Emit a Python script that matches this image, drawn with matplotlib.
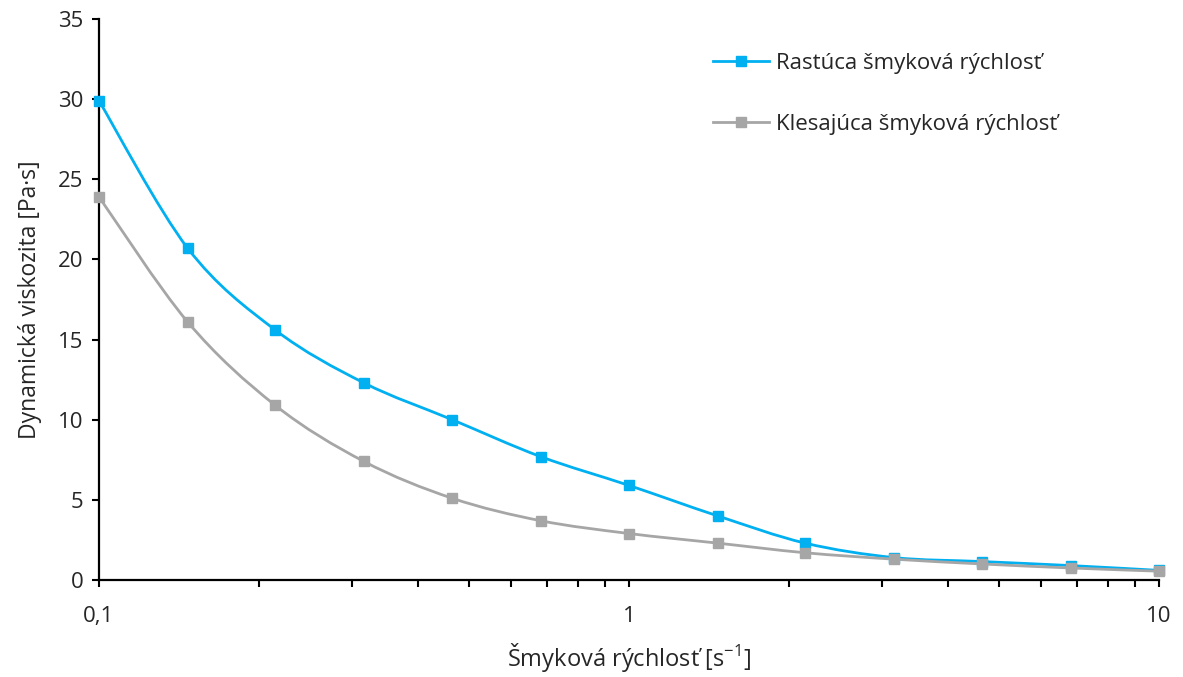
import numpy as np
import matplotlib.pyplot as plt
from matplotlib.path import Path
from matplotlib.patches import PathPatch
from matplotlib.lines import Line2D
from matplotlib.ticker import FixedLocator, LogLocator, NullFormatter

# ─────────────────────────────────────────────
# DATA
# ─────────────────────────────────────────────
shear_rate = [0.1, 0.147, 0.215, 0.316, 0.464, 0.681, 1.0, 1.47, 2.15, 3.16, 4.64, 6.81, 10.0]
visc_up    = [29.9, 20.7, 15.6, 12.3, 10.0, 7.7, 5.9, 4.0, 2.3, 1.4, 1.15, 0.9, 0.6]
visc_down  = [23.9, 16.1, 10.9, 7.4, 5.1, 3.7, 2.9, 2.3, 1.7, 1.3, 1.0, 0.75, 0.55]

label_up   = 'Rastúca šmyková rýchlosť'
label_down = 'Klesajúca šmyková rýchlosť'
xticks      = [0.1, 1, 10]
xticklabels = ['0,1', '1', '10']
yticks      = [0, 5, 10, 15, 20, 25, 30, 35]

BLUE = '#00B0F0'
GRAY = '#A6A6A6'
TEXT = '#262626'
FS = 16

plt.rcParams['font.family'] = ['Open Sans', 'DejaVu Sans']
plt.rcParams['mathtext.fontset'] = 'custom'
plt.rcParams['mathtext.rm'] = 'Open Sans'
plt.rcParams['mathtext.it'] = 'Open Sans'


def smooth_path(xs, ys):
    # Excel-like smoothing: Catmull-Rom in (log x, y), drawn as cubic Bezier
    u = np.log10(xs)
    v = np.asarray(ys, dtype=float)
    n = len(u)
    verts = [(xs[0], v[0])]
    codes = [Path.MOVETO]
    for i in range(n - 1):
        i0, i2 = max(i - 1, 0), min(i + 2, n - 1)
        c1u = u[i] + (u[i + 1] - u[i0]) / 6
        c1v = v[i] + (v[i + 1] - v[i0]) / 6
        c2u = u[i + 1] - (u[i2] - u[i]) / 6
        c2v = v[i + 1] - (v[i2] - v[i]) / 6
        verts += [(10 ** c1u, c1v), (10 ** c2u, c2v), (xs[i + 1], v[i + 1])]
        codes += [Path.CURVE4] * 3
    return Path(verts, codes)


fig = plt.figure(figsize=(11.83, 6.77), dpi=100)
ax = fig.add_axes([99 / 1183, 97 / 677, 1060 / 1183, 561 / 677])
ax.set_xscale('log')

for ys, col, z in [(visc_up, BLUE, 3), (visc_down, GRAY, 4)]:
    ax.add_patch(PathPatch(smooth_path(shear_rate, ys), facecolor='none',
                           edgecolor=col, lw=2.0, zorder=z, clip_on=False))
    ax.plot(shear_rate, ys, ls='none', marker='s', ms=7.5, color=col,
            zorder=z + 0.5, clip_on=False)

ax.set_xlim(0.1, 10)
ax.set_ylim(0, 35)

ax.xaxis.set_major_locator(FixedLocator(xticks))
ax.set_xticklabels(xticklabels)
ax.xaxis.set_minor_locator(LogLocator(base=10, subs=np.arange(2, 10)))
ax.xaxis.set_minor_formatter(NullFormatter())
ax.set_yticks(yticks)

for s in ['top', 'right']:
    ax.spines[s].set_visible(False)
for s in ['left', 'bottom']:
    ax.spines[s].set_linewidth(1.6)
    ax.spines[s].set_color('black')

ax.tick_params(axis='both', which='both', direction='out', length=5, width=1.5,
               colors='black', labelcolor=TEXT, labelsize=FS)
ax.tick_params(axis='x', which='major', pad=14)
ax.tick_params(axis='y', which='major', pad=6)

ax.set_xlabel('Šmyková rýchlosť [s$^{-1}$]', fontsize=17, color=TEXT, labelpad=10)
ax.set_ylabel('Dynamická viskozita [Pa·s]', fontsize=16.5, color=TEXT, labelpad=12)

handles = [Line2D([], [], color=BLUE, lw=2.0, marker='s', ms=7.5),
           Line2D([], [], color=GRAY, lw=2.0, marker='s', ms=7.5)]
fig.legend(handles, [label_up, label_down], loc='upper left',
           bbox_to_anchor=(713 / 1183, 1 - 53 / 677), frameon=False,
           fontsize=FS, labelcolor=TEXT, handlelength=2.5, handletextpad=0.35,
           labelspacing=1.8, borderpad=0, borderaxespad=0, numpoints=1)

fig.savefig('out.png', dpi=100)
